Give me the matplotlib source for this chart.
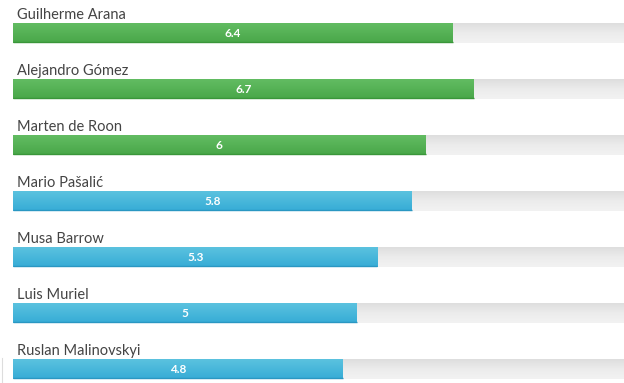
import numpy as np
import matplotlib
matplotlib.use("Agg")
import matplotlib.pyplot as plt
from matplotlib.colors import LinearSegmentedColormap

players = ["Guilherme Arana", "Alejandro Gómez", "Marten de Roon", "Mario Pašalić",
           "Musa Barrow", "Luis Muriel", "Ruslan Malinovskyi"]
ratings = [6.4, 6.7, 6.0, 5.8, 5.3, 5.0, 4.8]
value_labels = ["6.4", "6.7", "6", "5.8", "5.3", "5", "4.8"]
groups = ["green", "green", "green", "blue", "blue", "blue", "blue"]
max_rating = 10

W, H = 624, 383
PX_PER_UNIT = 68.75
LEFT = 13
ROW = 56
BAR_TOP = 23
BAR_H = 20

fills = {
    "green": ("#62bc62", "#49a749", "#3a963a"),
    "blue": ("#5bc2df", "#36acd6", "#2a97c2"),
}

plt.rcParams["font.family"] = ["Lato", "DejaVu Sans"]
fig = plt.figure(figsize=(W / 100, H / 100), dpi=100)
ax = fig.add_axes([0, 0, 1, 1])
ax.set_xlim(-LEFT / PX_PER_UNIT, (W - LEFT) / PX_PER_UNIT)
ax.set_ylim(H, 0)
ax.axis("off")

grad = np.linspace(0, 1, 32).reshape(-1, 1)
track_cmap = LinearSegmentedColormap.from_list("track", ["#dedede", "#ececec", "#f2f2f2"])

for i, (name, val, lab, g) in enumerate(zip(players, ratings, value_labels, groups)):
    top = BAR_TOP + ROW * i
    bot = top + BAR_H
    # grey track
    ax.imshow(grad, extent=(0, max_rating, bot, top), cmap=track_cmap,
              aspect="auto", interpolation="bilinear", zorder=1)
    # coloured bar
    c_top, c_bot, c_edge = fills[g]
    cmap = LinearSegmentedColormap.from_list(g, [c_top, c_bot])
    ax.imshow(grad, extent=(0, val, bot, top), cmap=cmap,
              aspect="auto", interpolation="bilinear", zorder=2)
    ax.plot([0, val], [bot - 0.6, bot - 0.6], color=c_edge, lw=1.0,
            solid_capstyle="butt", zorder=3)
    ax.text(val / 2, top + BAR_H / 2 + 0.5, lab, color="white", fontsize=8.5,
            fontweight="bold", ha="center", va="center", zorder=4)
    ax.text(4 / PX_PER_UNIT, top - 4, name, color="#444444", fontsize=10.5,
            ha="left", va="baseline", zorder=4)

ax.plot([-11 / PX_PER_UNIT, -11 / PX_PER_UNIT], [358, H], color="#dddddd", lw=0.8)

fig.savefig("out.png", dpi=100)
